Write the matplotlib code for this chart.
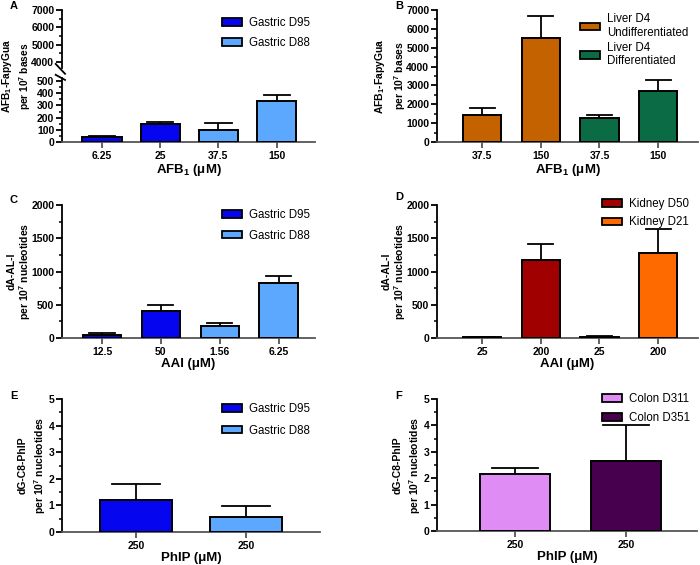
import numpy as np
import matplotlib
matplotlib.use("Agg")
import matplotlib.pyplot as plt
from matplotlib.patches import Patch
from matplotlib.ticker import MultipleLocator, AutoMinorLocator

plt.rcParams["font.family"] = ["Liberation Sans", "DejaVu Sans"]
plt.rcParams["font.weight"] = "bold"
plt.rcParams["axes.labelweight"] = "bold"
plt.rcParams["mathtext.fontset"] = "custom"
plt.rcParams["mathtext.rm"] = "Liberation Sans:bold"
plt.rcParams["mathtext.default"] = "rm"

W, H = 700, 565

# ── data (means and upper SD) ─────────────────────────────────────────────────
a_doses = ["6.25", "25", "37.5", "150"]
a_means = [38, 149, 100, 340]
a_errs = [14, 19, 52, 46]
a_groups = ["Gastric D95", "Gastric D95", "Gastric D88", "Gastric D88"]

b_doses = ["37.5", "150", "37.5", "150"]
b_means = [1450, 5500, 1270, 2720]
b_errs = [350, 1200, 180, 560]
b_groups = ["Liver D4\nUndifferentiated", "Liver D4\nUndifferentiated",
            "Liver D4\nDifferentiated", "Liver D4\nDifferentiated"]

c_doses = ["12.5", "50", "1.56", "6.25"]
c_means = [45, 406, 185, 832]
c_errs = [25, 90, 35, 100]
c_groups = ["Gastric D95", "Gastric D95", "Gastric D88", "Gastric D88"]

d_doses = ["25", "200", "25", "200"]
d_means = [10, 1171, 15, 1281]
d_errs = [10, 246, 15, 352]
d_groups = ["Kidney D50", "Kidney D50", "Kidney D21", "Kidney D21"]

e_doses = ["250", "250"]
e_means = [1.22, 0.57]
e_errs = [0.60, 0.40]
e_groups = ["Gastric D95", "Gastric D88"]

f_doses = ["250", "250"]
f_means = [2.16, 2.66]
f_errs = [0.24, 1.36]
f_groups = ["Colon D311", "Colon D351"]

COLORS = {
    "Gastric D95": "#0505F0",
    "Gastric D88": "#5CA8FF",
    "Liver D4\nUndifferentiated": "#C46200",
    "Liver D4\nDifferentiated": "#0A6B45",
    "Kidney D50": "#A00000",
    "Kidney D21": "#FF6A00",
    "Colon D311": "#E08CF5",
    "Colon D351": "#46004E",
}

XLAB = 9.5
YLAB = 7.5

fig = plt.figure(figsize=(W / 100, H / 100), dpi=100)


def px_axes(left, top, right, bottom):
    return fig.add_axes([left / W, 1 - bottom / H, (right - left) / W, (bottom - top) / H])


def style(ax, show_x=True):
    for s in ("top", "right"):
        ax.spines[s].set_visible(False)
    ax.spines["left"].set_linewidth(1.3)
    ax.spines["bottom"].set_linewidth(1.3)
    ax.spines["bottom"].set_color("#555555")
    ax.tick_params(axis="y", which="major", length=4, width=1.3, labelsize=7.5, pad=1.5)
    ax.tick_params(axis="y", which="minor", length=2.5, width=1.1)
    ax.yaxis.set_minor_locator(AutoMinorLocator(2))
    if show_x:
        ax.tick_params(axis="x", length=4, width=1.3, labelsize=7.5, pad=2.5, color="#555555")
    else:
        ax.spines["bottom"].set_visible(False)
        ax.tick_params(axis="x", bottom=False, labelbottom=False)


def draw_bars(ax, doses, means, errs, groups, width):
    x = np.arange(len(means))
    cols = [COLORS[g] for g in groups]
    ax.bar(x, means, width, color=cols, edgecolor="black", linewidth=1.4, zorder=3)
    cap = width * 0.33
    for xi, m, e in zip(x, means, errs):
        ax.plot([xi, xi], [m, m + e], color="black", lw=1.3, zorder=2, solid_capstyle="butt")
        ax.plot([xi - cap, xi + cap], [m + e, m + e], color="black", lw=1.3, zorder=2)
    ax.set_xticks(x)
    ax.set_xticklabels(doses)


def set_ylab(ax, text, pad, spacing):
    ax.set_ylabel(text, fontsize=YLAB, labelpad=pad, linespacing=spacing)


def add_legend(groups, x_px, y_px, spacing):
    seen = list(dict.fromkeys(groups))
    handles = [Patch(facecolor=COLORS[g], edgecolor="black", linewidth=1.3, label=g) for g in seen]
    fig.legend(handles=handles, loc="upper left", bbox_to_anchor=(x_px / W, 1 - y_px / H),
               frameon=False, prop={"size": 8.3, "weight": "normal"}, handlelength=1.75,
               handleheight=0.6, handletextpad=0.6, labelspacing=spacing,
               borderpad=0, borderaxespad=0)


def panel_letter(s, x_px, y_px):
    fig.text(x_px / W, 1 - y_px / H, s, fontsize=8, fontweight="bold", ha="left", va="center")


# ── Panel A (broken axis) ────────────────────────────────────────────────────
a_xlim = (-0.69, 3.66)
ax_top = px_axes(62, 10, 315, 68)
style(ax_top, show_x=False)
ax_top.set_xlim(*a_xlim)
ax_top.set_ylim(3650, 7000)
ax_top.set_yticks([4000, 5000, 6000, 7000])

ax_a = px_axes(62, 78, 315, 142)
style(ax_a)
draw_bars(ax_a, a_doses, a_means, a_errs, a_groups, 0.68)
ax_a.set_xlim(*a_xlim)
ax_a.set_ylim(0, 525)
ax_a.set_yticks([0, 100, 200, 300, 400, 500])
ax_a.set_xlabel("AFB$_1$ (μM)", fontsize=XLAB, labelpad=1)
for ax, yy in ((ax_top, 0), (ax_a, 1)):
    ax.plot([-0.025, 0.012], [yy + (0.07 if yy == 0 else 0.05), yy - (0.1 if yy == 0 else 0.03)],
            transform=ax.transAxes, color="black", lw=1.3, clip_on=False)
fig.text(16.5 / W, 1 - 76 / H, "AFB$_1$-FapyGua\nper 10$^7$ bases", rotation=90,
         ha="center", va="center", fontsize=7.3, fontweight="bold",
         multialignment="center", linespacing=1.2)
add_legend(a_groups, 222, 17, 0.7)
panel_letter("A", 10, 6)

# ── Panel B ──────────────────────────────────────────────────────────────────
ax_b = px_axes(437, 10, 698, 142)
style(ax_b)
draw_bars(ax_b, b_doses, b_means, b_errs, b_groups, 0.65)
ax_b.set_xlim(-0.77, 3.68)
ax_b.set_ylim(0, 7000)
ax_b.yaxis.set_major_locator(MultipleLocator(1000))
ax_b.yaxis.set_minor_locator(AutoMinorLocator(2))
ax_b.set_xlabel("AFB$_1$ (μM)", fontsize=XLAB, labelpad=1)
set_ylab(ax_b, "AFB$_1$-FapyGua\nper 10$^7$ bases", -1.5, 1.5)
add_legend(b_groups, 580, 13, 0.25)
panel_letter("B", 395, 6)

# ── Panel C ──────────────────────────────────────────────────────────────────
ax_c = px_axes(62, 205, 315, 338)
style(ax_c)
draw_bars(ax_c, c_doses, c_means, c_errs, c_groups, 0.65)
ax_c.set_xlim(-0.68, 3.62)
ax_c.set_ylim(0, 2000)
ax_c.yaxis.set_major_locator(MultipleLocator(500))
ax_c.yaxis.set_minor_locator(AutoMinorLocator(2))
ax_c.set_xlabel("AAI (μM)", fontsize=XLAB, labelpad=1)
set_ylab(ax_c, "dA-AL-I\nper 10$^7$ nucleotides", -1.0, 1.0)
add_legend(c_groups, 222, 209, 0.75)
panel_letter("C", 10, 200)

# ── Panel D ──────────────────────────────────────────────────────────────────
ax_d = px_axes(437, 205, 698, 338)
style(ax_d)
draw_bars(ax_d, d_doses, d_means, d_errs, d_groups, 0.65)
ax_d.set_xlim(-0.77, 3.68)
ax_d.set_ylim(0, 2000)
ax_d.yaxis.set_major_locator(MultipleLocator(500))
ax_d.yaxis.set_minor_locator(AutoMinorLocator(2))
ax_d.set_xlabel("AAI (μM)", fontsize=XLAB, labelpad=1)
set_ylab(ax_d, "dA-AL-I\nper 10$^7$ nucleotides", -1.0, 1.0)
add_legend(d_groups, 602, 198, 0.55)
panel_letter("D", 395, 197)

# ── Panel E ──────────────────────────────────────────────────────────────────
ax_e = px_axes(62, 399, 320, 532)
style(ax_e)
draw_bars(ax_e, e_doses, e_means, e_errs, e_groups, 0.655)
ax_e.set_xlim(-0.67, 1.67)
ax_e.set_ylim(0, 5)
ax_e.yaxis.set_major_locator(MultipleLocator(1))
ax_e.yaxis.set_minor_locator(AutoMinorLocator(2))
ax_e.set_xlabel("PhIP (μM)", fontsize=XLAB, labelpad=1)
set_ylab(ax_e, "dG-C8-PhIP\nper 10$^7$ nucleotides", 0.5, 1.4)
add_legend(e_groups, 222, 403, 0.85)
panel_letter("E", 10, 396)

# ── Panel F ──────────────────────────────────────────────────────────────────
ax_f = px_axes(437, 399, 697, 531)
style(ax_f)
draw_bars(ax_f, f_doses, f_means, f_errs, f_groups, 0.63)
ax_f.set_xlim(-0.70, 1.64)
ax_f.set_ylim(0, 5)
ax_f.yaxis.set_major_locator(MultipleLocator(1))
ax_f.yaxis.set_minor_locator(AutoMinorLocator(2))
ax_f.set_xlabel("PhIP (μM)", fontsize=XLAB, labelpad=1)
set_ylab(ax_f, "dG-C8-PhIP\nper 10$^7$ nucleotides", 0.5, 1.4)
add_legend(f_groups, 602, 393, 0.6)
panel_letter("F", 395, 396)

fig.savefig("out.png", dpi=100)
